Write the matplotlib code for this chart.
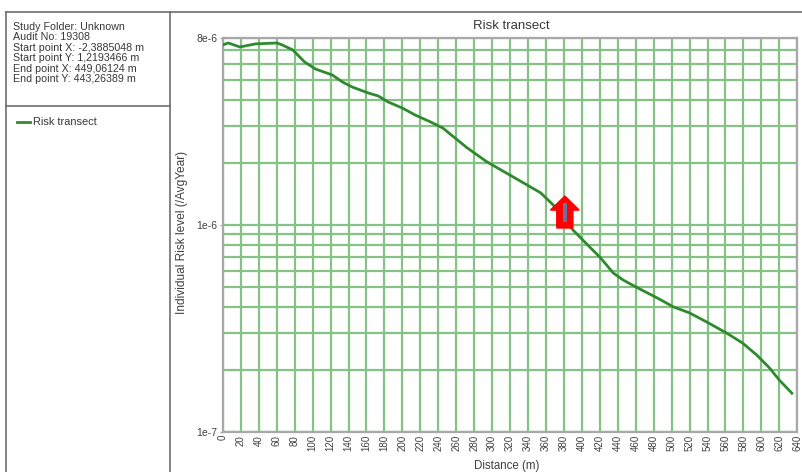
"""Risk transect chart: individual risk level along a distance transect."""

import matplotlib
matplotlib.use("Agg")
import matplotlib.pyplot as plt
from matplotlib.lines import Line2D
from matplotlib.patches import Polygon, Rectangle
from matplotlib.ticker import FixedLocator, LogLocator, NullFormatter

plt.rcParams["font.family"] = ["Liberation Sans", "DejaVu Sans"]

# curve
DISTANCE = [0, 6, 19, 36, 60, 66, 78, 91, 103, 122, 133, 144, 162, 173, 184, 200,
            214, 231, 245, 272, 294, 323, 354, 368, 390, 412, 420, 435, 446, 462,
            484, 502, 520, 539, 561, 579, 595, 609, 620, 634]
RISK = [7.41e-6, 7.57e-6, 7.24e-6, 7.49e-6, 7.57e-6, 7.41e-6, 7.0e-6, 6.13e-6,
        5.67e-6, 5.3e-6, 4.91e-6, 4.64e-6, 4.34e-6, 4.2e-6, 3.93e-6, 3.67e-6,
        3.4e-6, 3.15e-6, 2.94e-6, 2.36e-6, 2.02e-6, 1.71e-6, 1.43e-6, 1.25e-6,
        9.46e-7, 7.57e-7, 7.0e-7, 5.86e-7, 5.42e-7, 4.97e-7, 4.44e-7, 4.02e-7,
        3.76e-7, 3.4e-7, 3.01e-7, 2.69e-7, 2.35e-7, 2.04e-7, 1.78e-7, 1.54e-7]

X_TICKS = list(range(0, 641, 20))
Y_TICKS = [1e-7, 1e-6, 8e-6]
Y_TICK_LABELS = ["1e-7", "1e-6", "8e-6"]

INFO_LINES = [
    "Study Folder: Unknown",
    "Audit No: 19308",
    "Start point X: -2,3885048 m",
    "Start point Y: 1,2193466 m",
    "End point X: 449,06124 m",
    "End point Y: 443,26389 m",
]

# red marker arrow (data coords)
ARROW_X = 381
ARROW_TOP, ARROW_NECK, ARROW_BOTTOM = 1.38e-6, 1.18e-6, 9.67e-7
ARROW_HEAD_HALF, ARROW_SHAFT_HALF = 16, 9
BAR_HALF, BAR_TOP, BAR_BOTTOM = 2.2, 1.27e-6, 1.03e-6

LINE_GREEN = "#2f8a2f"
GRID_GREEN = "#86c286"
FRAME = "#6e6e6e"
TEXT = "#383838"
W, H = 803, 472


def fx(px):
    return px / W


def fy(py):
    return 1 - py / H


fig = plt.figure(figsize=(W / 100, H / 100), dpi=100)

# panel frame
for x0, y0, x1, y1 in [(6, 12, W, 12), (6, 12, 6, H), (170, 12, 170, H), (6, 106, 170, 106)]:
    fig.add_artist(Line2D([fx(x0), fx(x1)], [fy(y0), fy(y1)], color=FRAME, lw=1.2))

for i, line in enumerate(INFO_LINES):
    fig.text(fx(13), fy(26.5 + i * 10.6), line, fontsize=7.7, color=TEXT, va="center")

fig.add_artist(Line2D([fx(17), fx(30)], [fy(122), fy(122)], color=LINE_GREEN, lw=2))
fig.text(fx(33), fy(122), "Risk transect", fontsize=7.9, color=TEXT, va="center")

ax = fig.add_axes([fx(222.9), fy(432), (797.3 - 222.9) / W, (432 - 38) / H])
ax.plot(DISTANCE, RISK, color=LINE_GREEN, lw=2, zorder=3)
ax.set_yscale("log")
ax.set_xlim(0, 640)
ax.set_ylim(1e-7, 8e-6)

ax.set_xticks(X_TICKS)
ax.set_xticklabels([str(t) for t in X_TICKS], rotation=90, fontsize=7, color="#404040")
ax.yaxis.set_major_locator(FixedLocator(Y_TICKS))
ax.set_yticklabels(Y_TICK_LABELS, fontsize=7.5, color="#404040")
ax.yaxis.set_minor_locator(LogLocator(base=10, subs=range(2, 10)))
ax.yaxis.set_minor_formatter(NullFormatter())
ax.tick_params(axis="both", which="both", length=0, pad=2)
ax.tick_params(axis="y", which="major", length=2, color="#a0a0a0")

ax.grid(True, axis="x", which="major", color=GRID_GREEN, lw=1.6)
ax.grid(True, axis="y", which="both", color=GRID_GREEN, lw=1.6)
ax.set_axisbelow(True)
for spine in ax.spines.values():
    spine.set_color("#a8a8a8")
    spine.set_linewidth(1.6)

fig.text(fx(511), fy(26), "Risk transect", fontsize=9.5, color=TEXT, ha="center", va="center")
fig.text(fx(182), fy(232), "Individual Risk level (/AvgYear)", fontsize=8.6, color="#404040",
         rotation=90, ha="center", va="center")
fig.text(fx(507), fy(466), "Distance (m)", fontsize=8.3, color="#404040", ha="center", va="center")

arrow = Polygon(
    [(ARROW_X, ARROW_TOP), (ARROW_X + ARROW_HEAD_HALF, ARROW_NECK),
     (ARROW_X + ARROW_SHAFT_HALF, ARROW_NECK), (ARROW_X + ARROW_SHAFT_HALF, ARROW_BOTTOM),
     (ARROW_X - ARROW_SHAFT_HALF, ARROW_BOTTOM), (ARROW_X - ARROW_SHAFT_HALF, ARROW_NECK),
     (ARROW_X - ARROW_HEAD_HALF, ARROW_NECK)],
    closed=True, facecolor="#ff0000", edgecolor="#ff0000", zorder=4,
)
ax.add_patch(arrow)
ax.add_patch(Rectangle((ARROW_X - BAR_HALF, BAR_BOTTOM), 2 * BAR_HALF, BAR_TOP - BAR_BOTTOM,
                       facecolor="#6f6f9f", edgecolor="none", zorder=5))

fig.savefig("out.png", dpi=100)
